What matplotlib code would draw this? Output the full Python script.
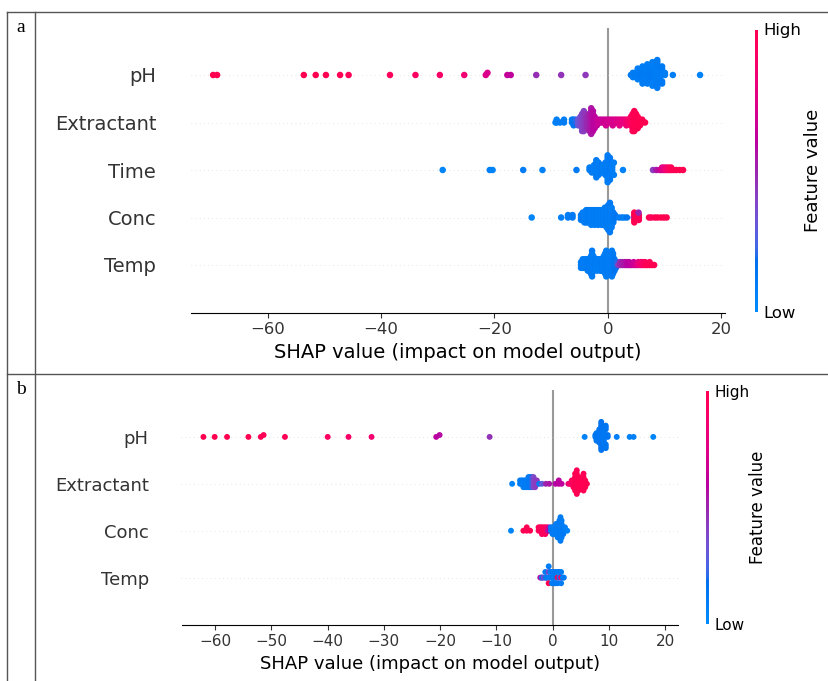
import matplotlib
matplotlib.use("Agg")
import matplotlib.pyplot as plt
import numpy as np
from matplotlib.colors import LinearSegmentedColormap
from matplotlib.lines import Line2D
from matplotlib.cm import ScalarMappable

# Each row of a beeswarm is stored as: SHAP position, how many dots sit there,
# and the scaled feature value (0 = low / blue, 1 = high / red) of those dots.

# ---- panel a ----
a_features = ["pH", "Extractant", "Time", "Conc", "Temp"]

a_ph_pos = [-69.6, -68.9, -53.6, -51.5, -49.7, -47.2, -45.7, -38.4, -33.9, -29.6,
            -25.3, -21.5, -21.2, -17.7, -17.1, -12.6, -8.2, -3.9,
            4.1, 4.45, 4.95, 5.3, 5.8, 6.15, 6.65, 7.0, 7.5, 7.9,
            8.4, 8.75, 9.25, 9.6, 10.1, 11.5, 16.3]
a_ph_n = [1, 1, 1, 1, 1, 1, 1, 1, 1, 1,
          1, 1, 1, 1, 1, 1, 1, 1,
          1, 2, 3, 3, 4, 5, 5, 5, 6, 6,
          7, 7, 5, 4, 2, 1, 1]
a_ph_feat = [1.0, 1.0, 1.0, 1.0, 1.0, 0.98, 0.97, 0.95, 0.93, 0.9,
             0.85, 0.74, 0.72, 0.64, 0.62, 0.47, 0.45, 0.44,
             0.12, 0.10, 0.11, 0.09, 0.12, 0.10, 0.11, 0.10, 0.12, 0.09,
             0.10, 0.11, 0.10, 0.12, 0.09, 0.08, 0.06]

a_ext_pos = [-9.2, -9.0, -8.4, -7.7, -6.3, -6.0, -5.6, -5.2, -4.8, -4.5,
             -4.2, -3.9, -3.6, -3.2, -2.9, -2.6, -2.3, -1.9, -1.5, -1.1,
             -0.7, -0.3, 0.1, 0.5, 0.9, 1.3, 1.7, 2.1, 2.5, 2.9,
             3.3, 3.7, 4.1, 4.4, 4.7, 5.0, 5.3, 5.7, 6.1, 6.6]
a_ext_n = [1, 2, 1, 2, 2, 3, 2, 3, 4, 7,
           8, 6, 5, 7, 10, 8, 5, 3, 2, 2,
           2, 3, 2, 2, 3, 2, 2, 3, 2, 2,
           3, 2, 4, 7, 8, 6, 5, 3, 2, 1]
a_ext_feat = [0.05, 0.08, 0.1, 0.1, 0.12, 0.15, 0.2, 0.32, 0.36, 0.4,
              0.42, 0.45, 0.48, 0.52, 0.55, 0.58, 0.6, 0.63, 0.65, 0.66,
              0.67, 0.68, 0.69, 0.7, 0.71, 0.72, 0.74, 0.76, 0.78, 0.8,
              0.84, 0.88, 0.92, 0.96, 1.0, 0.98, 1.0, 1.0, 1.0, 1.0]

a_time_pos = [-29.1, -20.8, -20.3, -14.9, -11.5, -5.5,
              -3.2, -2.8, -2.4, -2.0, -1.6, -1.2, -0.8, -0.4, 0.0, 0.4, 0.8, 1.1, 2.7,
              8.0, 8.6, 9.2, 9.6, 10.0, 10.4, 10.8, 11.2, 11.6, 12.1, 12.7, 13.3]
a_time_n = [1, 1, 1, 1, 1, 1,
            2, 3, 4, 8, 6, 4, 4, 6, 12, 10, 4, 2, 1,
            1, 1, 1, 2, 2, 2, 2, 2, 1, 1, 1, 1]
a_time_feat = [0.05, 0.08, 0.06, 0.1, 0.07, 0.12,
               0.10, 0.12, 0.09, 0.11, 0.10, 0.12, 0.09, 0.11, 0.10, 0.12, 0.10, 0.09, 0.06,
               0.42, 0.55, 0.65, 0.72, 0.8, 0.86, 0.92, 0.96, 0.98, 1.0, 1.0, 1.0]

a_conc_pos = [-13.4, -8.2, -7.0, -6.2,
              -4.7, -4.4, -4.1, -3.8, -3.5, -3.2, -2.9, -2.6, -2.3, -2.0,
              -1.7, -1.4, -1.1, -0.8, -0.5, -0.2, 0.1, 0.4, 0.7, 1.0, 1.3,
              2.0, 2.5, 2.9, 3.4,
              4.6, 4.7, 5.5, 5.45, 7.3, 7.7, 8.3, 8.8, 9.4, 9.9, 10.4]
a_conc_n = [1, 1, 2, 2,
            3, 4, 5, 6, 6, 6, 7, 6, 7, 6,
            7, 6, 7, 7, 8, 9, 11, 13, 9, 5, 2,
            1, 1, 1, 1,
            1, 4, 3, 1, 1, 1, 1, 1, 1, 1, 1]
a_conc_feat = [0.05, 0.08, 0.1, 0.12,
               0.10, 0.12, 0.09, 0.11, 0.10, 0.12, 0.09, 0.11, 0.10, 0.12,
               0.09, 0.11, 0.10, 0.12, 0.09, 0.11, 0.10, 0.12, 0.09, 0.11, 0.14,
               0.1, 0.12, 0.08, 0.15,
               0.42, 1.0, 0.97, 0.5, 1.0, 0.95, 1.0, 1.0, 1.0, 1.0, 1.0]

a_temp_pos = [-4.7, -4.4, -4.1, -3.8, -3.5, -3.2, -2.95, -2.75, -2.5, -2.2,
              -1.9, -1.6, -1.3, -1.0, -0.7, -0.45, -0.25, 0.0, 0.25, 0.5,
              0.75, 0.95, 1.2, 1.45, 1.65,
              1.9, 2.2, 2.6, 3.0, 3.4, 3.8, 4.2, 4.6, 5.0, 5.4,
              5.8, 6.2, 6.6, 7.0, 7.4, 7.8, 8.2]
a_temp_n = [3, 4, 4, 4, 5, 5, 7, 10, 6, 4,
            5, 4, 5, 5, 6, 8, 10, 7, 7, 8,
            10, 8, 5, 3, 2,
            1, 2, 2, 2, 2, 2, 1, 2, 1, 2,
            2, 2, 2, 1, 2, 1, 1]
a_temp_feat = [0.10, 0.12, 0.09, 0.11, 0.10, 0.12, 0.09, 0.11, 0.10, 0.12,
               0.09, 0.11, 0.10, 0.12, 0.09, 0.11, 0.10, 0.12, 0.09, 0.11,
               0.10, 0.12, 0.14, 0.16, 0.2,
               0.42, 0.48, 0.52, 0.55, 0.58, 0.6, 0.63, 0.66, 0.72, 0.78,
               0.84, 0.9, 0.95, 1.0, 0.97, 1.0, 1.0]

# ---- panel b ----
b_features = ["pH", "Extractant", "Conc", "Temp"]

b_ph_pos = [-62.1, -60.1, -57.9, -54.1, -51.9, -51.4, -47.6, -40.0, -36.3, -32.2,
            -20.7, -20.1, -11.2,
            5.7, 7.6, 7.8, 8.3, 8.65, 9.1, 9.45, 9.8, 11.4, 13.7, 14.4, 17.9]
b_ph_n = [1, 1, 1, 1, 1, 1, 1, 1, 1, 1,
          1, 1, 1,
          1, 2, 3, 8, 8, 7, 6, 2, 1, 1, 1, 1]
b_ph_feat = [1.0, 1.0, 1.0, 1.0, 0.98, 0.97, 0.97, 0.93, 0.9, 0.86,
             0.6, 0.58, 0.46,
             0.06, 0.13, 0.15, 0.14, 0.16, 0.13, 0.15, 0.14, 0.08, 0.06, 0.07, 0.05]

b_ext_pos = [-7.2, -5.8, -5.5, -5.2, -4.9, -4.6, -4.3, -4.0, -3.7,
             -3.4, -3.1, -2.8,
             -2.4, -1.9, -1.2, -0.6, 0.5, 1.1, 1.6,
             2.8, 3.1, 3.4, 3.7, 4.0, 4.3, 4.6, 4.9, 5.2, 5.5, 5.8, 6.1]
b_ext_n = [1, 2, 2, 3, 3, 3, 4, 4, 4,
           4, 3, 2,
           1, 1, 1, 1, 1, 2, 1,
           1, 1, 2, 3, 6, 8, 5, 3, 4, 6, 3, 1]
b_ext_feat = [0.05, 0.10, 0.12, 0.09, 0.11, 0.10, 0.12, 0.11, 0.2,
              0.38, 0.42, 0.44,
              0.1, 0.3, 0.5, 0.55, 0.58, 0.6, 0.62,
              0.82, 0.88, 0.92, 0.96, 1.0, 0.98, 1.0, 0.97, 1.0, 0.98, 1.0, 1.0]

b_conc_pos = [-7.4, -5.2, -4.6, -4.0,
              -2.5, -2.2, -1.9, -1.6, -1.3, -1.0,
              -0.8, -0.6,
              -0.3, 0.0, 0.3, 0.6, 0.9, 1.2, 1.4, 1.6, 1.9, 2.2, 2.6]
b_conc_n = [1, 1, 2, 1,
            2, 2, 3, 2, 3, 2,
            1, 2,
            2, 3, 3, 4, 5, 6, 8, 6, 3, 2, 1]
b_conc_feat = [0.05, 1.0, 0.97, 1.0,
               0.95, 1.0, 0.92, 1.0, 0.96, 0.9,
               0.55, 0.6,
               0.10, 0.12, 0.09, 0.11, 0.10, 0.12, 0.11, 0.10, 0.12, 0.09, 0.06]

b_temp_pos = [-2.2, -1.9, -1.88, -1.6, -1.3, -1.1, -1.08,
              -0.70, -0.70, -0.705, -0.695,
              -0.4, -0.1, 0.2, 0.5, 0.9, 0.91, 1.2, 1.5, 1.51, 1.8, 2.0]
b_temp_n = [1, 1, 1, 1, 2, 1, 1,
            1, 1, 1, 1,
            2, 3, 3, 3, 1, 2, 2, 1, 2, 1, 1]
b_temp_feat = [0.55, 0.5, 0.1, 0.42, 0.1, 0.45, 0.1,
               0.1, 0.42, 1.0, 0.1,
               0.1, 0.11, 0.1, 0.12, 1.0, 0.1, 0.1, 0.85, 0.1, 0.1, 0.12]


def red_blue_cmap():
    # shap's red_blue map: LCH interpolation blue -> dark purple -> red
    blue = (54.0, 70.0, 4.6588)
    red = (54.0, 90.0, 0.35470565 + 2 * np.pi)
    steps = 100
    l = np.r_[np.linspace(blue[0], 40.0, steps // 2), np.linspace(40.0, red[0], steps // 2)]
    c = np.linspace(blue[1], red[1], steps)
    h = np.linspace(blue[2], red[2], steps)
    a = c * np.cos(h)
    b = c * np.sin(h)
    fy = (l + 16) / 116
    fx = fy + a / 500
    fz = fy - b / 200

    def finv(t):
        return np.where(t > 6 / 29, t ** 3, 3 * (6 / 29) ** 2 * (t - 4 / 29))

    X = 0.95047 * finv(fx)
    Y = finv(fy)
    Z = 1.08883 * finv(fz)
    r = 3.2406 * X - 1.5372 * Y - 0.4986 * Z
    g = -0.9689 * X + 1.8758 * Y + 0.0415 * Z
    bl = 0.0557 * X - 0.2040 * Y + 1.0570 * Z
    rgb = np.stack([r, g, bl], axis=1)
    rgb = np.where(rgb > 0.0031308, 1.055 * np.abs(rgb) ** (1 / 2.4) - 0.055, 12.92 * rgb)
    return LinearSegmentedColormap.from_list("red_blue", np.clip(rgb, 0, 1))


def swarm(vals, row_height=0.4):
    # same binning/layering as shap's beeswarm
    vals = np.asarray(vals, float)
    quant = np.round(100 * (vals - vals.min()) / (vals.max() - vals.min() + 1e-8))
    inds = np.argsort(quant, kind="stable")
    ys = np.zeros(len(vals))
    layer = 0
    last = -1
    for i in inds:
        if quant[i] != last:
            layer = 0
        ys[i] = np.ceil(layer / 2) * ((layer % 2) * 2 - 1)
        layer += 1
        last = quant[i]
    ys *= 0.9 * (row_height / np.max(ys + 1))
    return ys


W, H = 829, 681
cmap = red_blue_cmap()
fig = plt.figure(figsize=(W / 100, H / 100), dpi=100)


def rect(l, t, r, b):
    return [l / W, 1 - b / H, (r - l) / W, (b - t) / H]


def draw_panel(ax_box, cb_box, names, rows, xlim, xticks, k, s, cb_pad):
    ax = fig.add_axes(rect(*ax_box))
    n = len(names)
    ax.axvline(0, color="#999999", zorder=-1)
    for i, (pos_list, counts, feat) in enumerate(rows):
        pos = n - 1 - i
        sv = np.repeat(pos_list, counts)
        fv = np.repeat(feat, counts)
        ax.axhline(pos, color="#cccccc", lw=0.5, dashes=(1, 5), zorder=-1)
        ax.scatter(sv, pos + swarm(sv), c=fv, cmap=cmap, vmin=0, vmax=1,
                   s=s, linewidth=0, zorder=3)
    ax.set_xlim(*xlim)
    ax.set_ylim(-1, n)
    ax.set_xticks(xticks)
    ax.set_yticks(range(n))
    ax.set_yticklabels(names[::-1], fontsize=13 * k)
    ax.xaxis.set_ticks_position("bottom")
    ax.yaxis.set_ticks_position("none")
    for side in ["right", "top", "left"]:
        ax.spines[side].set_visible(False)
    ax.tick_params(color="#333333", labelcolor="#333333")
    ax.tick_params("y", length=20 * k, width=0.5, which="major")
    ax.tick_params("x", labelsize=11 * k)
    ax.set_xlabel("SHAP value (impact on model output)", fontsize=13 * k)

    cax = fig.add_axes(rect(*cb_box))
    sm = ScalarMappable(cmap=cmap)
    sm.set_array([])
    cb = fig.colorbar(sm, cax=cax, ticks=[0, 1])
    cb.set_ticklabels(["Low", "High"])
    cb.set_label("Feature value", size=12 * k, labelpad=cb_pad)
    cb.ax.tick_params(labelsize=11 * k, length=0)
    cb.outline.set_visible(False)


draw_panel((191, 27.5, 725, 312.5), (755.5, 29.5, 758.5, 311.5), a_features,
           [(a_ph_pos, a_ph_n, a_ph_feat), (a_ext_pos, a_ext_n, a_ext_feat),
            (a_time_pos, a_time_n, a_time_feat), (a_conc_pos, a_conc_n, a_conc_feat),
            (a_temp_pos, a_temp_n, a_temp_feat)],
           (-73.5, 20.7), [-60, -40, -20, 0, 20], 1.077, 22, 2)

draw_panel((181.5, 390, 678, 624.5), (706.5, 390.5, 709.5, 623.5), b_features,
           [(b_ph_pos, b_ph_n, b_ph_feat), (b_ext_pos, b_ext_n, b_ext_feat),
            (b_conc_pos, b_conc_n, b_conc_feat), (b_temp_pos, b_temp_n, b_temp_feat)],
           (-66.0, 22.3), [-60, -50, -40, -30, -20, -10, 0, 10, 20], 1.0, 18, 0)

# table frame around the two panels
frame = [((7, 11.7), (829, 11.7)), ((7, 374.3), (829, 374.3)),
         ((7.3, 11.7), (7.3, 681)), ((35.5, 11.7), (35.5, 681))]
for (x0, y0), (x1, y1) in frame:
    fig.add_artist(Line2D([x0 / W, x1 / W], [1 - y0 / H, 1 - y1 / H],
                          transform=fig.transFigure, color="#555555", lw=1.0))

fig.text(20.5 / W, 1 - 27 / H, "a", ha="center", va="center",
         family="Liberation Serif", fontsize=14)
fig.text(21 / W, 1 - 389 / H, "b", ha="center", va="center",
         family="Liberation Serif", fontsize=14)

fig.savefig("out.png", dpi=100)
